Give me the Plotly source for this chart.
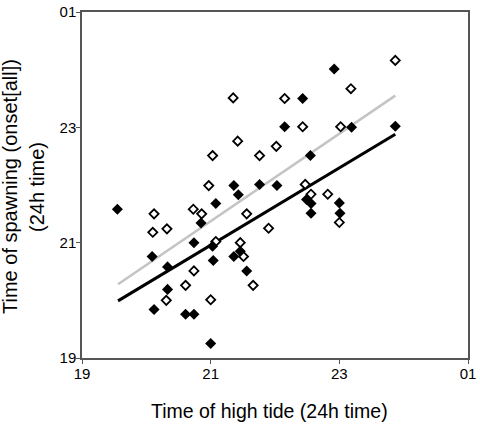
import plotly.graph_objects as go

# Open diamonds (series A)
open_x = [20.12, 20.10, 20.32, 20.31, 20.61, 20.74, 20.73, 20.86, 20.97, 21.08, 21.00,
          21.56, 21.46, 21.51, 21.66, 21.90, 21.35, 21.42, 21.03, 21.76, 22.02, 22.15,
          22.43, 23.18, 23.02, 23.87, 22.47, 22.56, 22.82, 23.00]
open_y = [21.50, 21.18, 21.24, 20.00, 20.26, 20.51, 21.58, 21.50, 21.99, 21.02, 20.01,
          21.50, 21.00, 20.76, 20.26, 21.25, 23.51, 22.76, 22.51, 22.51, 22.67, 23.50,
          23.01, 23.67, 23.01, 24.16, 22.01, 21.84, 21.84, 21.35]

# Filled diamonds (series B)
fill_x = [19.55, 20.09, 20.33, 20.33, 20.12, 20.61, 20.74, 20.74, 20.85, 21.08, 21.03,
          21.04, 21.00, 21.36, 21.43, 21.46, 21.36, 21.56, 21.76, 22.03, 22.43, 22.15,
          22.55, 22.92, 23.19, 23.87, 22.49, 22.56, 22.56, 23.00, 23.01]
fill_y = [21.58, 20.76, 20.58, 20.19, 19.84, 19.76, 19.76, 21.00, 21.34, 21.68, 20.94,
          20.69, 19.25, 21.99, 21.83, 20.85, 20.76, 20.51, 22.01, 21.99, 23.50, 23.01,
          22.51, 24.01, 23.00, 23.02, 21.75, 21.68, 21.51, 21.69, 21.51]

# Regression lines (endpoints)
fit_open_x = [19.56, 23.87]
fit_open_y = [20.28, 23.55]
fit_fill_x = [19.56, 23.87]
fit_fill_y = [19.99, 22.88]

tick_vals = [19, 21, 23, 25]
tick_text = ["19", "21", "23", "01"]

x_title = "Time of high tide (24h time)"
y_title_lines = ["Time of spawning (onset[all])", "(24h time)"]

FONT = "Arial, Liberation Sans, sans-serif"

fig = go.Figure()
fig.add_trace(go.Scatter(x=fit_open_x, y=fit_open_y, mode="lines",
                         line=dict(color="#c4c4c4", width=2.5), hoverinfo="skip"))
fig.add_trace(go.Scatter(x=fit_fill_x, y=fit_fill_y, mode="lines",
                         line=dict(color="black", width=3), hoverinfo="skip"))
fig.add_trace(go.Scatter(x=open_x, y=open_y, mode="markers",
                         marker=dict(symbol="diamond", size=7, color="white",
                                     line=dict(color="black", width=1.8))))
fig.add_trace(go.Scatter(x=fill_x, y=fill_y, mode="markers",
                         marker=dict(symbol="diamond", size=8.5, color="black",
                                     line=dict(color="black", width=0))))

axis_common = dict(
    range=[19, 25], tickvals=tick_vals, ticktext=tick_text,
    showgrid=False, zeroline=False, showline=True, linecolor="#555",
    linewidth=1.5, mirror=True, ticks="outside", ticklen=4, tickcolor="#555",
    ticklabelstandoff=-3,
    tickfont=dict(family=FONT, size=15, color="black"), automargin=False,
)

annotations = [
    dict(text=x_title, xref="paper", yref="paper", x=0.5, y=0, yshift=-53, xshift=-6,
         xanchor="center", yanchor="middle", showarrow=False,
         font=dict(family=FONT, size=19.5, color="black")),
    dict(text=y_title_lines[0], xref="paper", yref="paper", x=0, y=0.5, xshift=-72,
         yshift=-2, xanchor="center", yanchor="middle", textangle=-90, showarrow=False,
         font=dict(family=FONT, size=20, color="black")),
    dict(text=y_title_lines[1], xref="paper", yref="paper", x=0, y=0.5, xshift=-45,
         yshift=-2, xanchor="center", yanchor="middle", textangle=-90, showarrow=False,
         font=dict(family=FONT, size=20, color="black")),
]

fig.update_layout(
    width=480, height=424,
    margin=dict(l=82, r=12, t=12, b=66),
    plot_bgcolor="white", paper_bgcolor="white",
    showlegend=False,
    xaxis=axis_common,
    yaxis=axis_common,
    annotations=annotations,
)

fig.write_html("out.html")
